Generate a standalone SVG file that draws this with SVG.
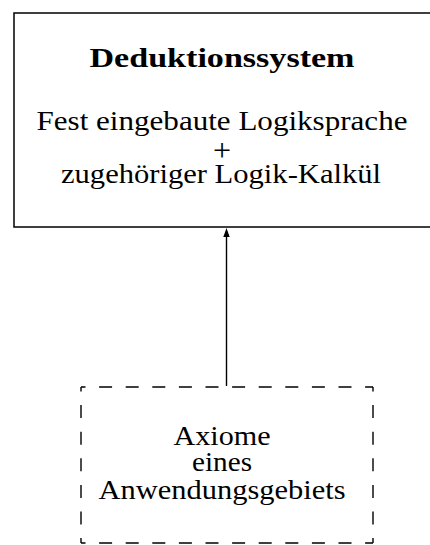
<svg xmlns="http://www.w3.org/2000/svg" width="430" height="545" viewBox="0 0 430 545">
<style>
text{font-family:"Liberation Serif","Times New Roman",serif;font-size:28px;fill:#000;text-anchor:middle}
.b{font-weight:bold}
.p{font-size:32px}
.box{fill:none;stroke:#000;stroke-width:1.5}
.dash{fill:none;stroke:#000;stroke-width:1.4;stroke-dasharray:13 13.6;stroke-dashoffset:8.5}
.conn{stroke:#000;stroke-width:1.4;fill:none}
</style>
<rect width="430" height="545" fill="#fff"/>
<g id="deduktionssystem">
<rect class="box" x="14" y="13" width="420" height="214"/>
<text class="b" x="222" y="67" textLength="265" lengthAdjust="spacingAndGlyphs">Deduktionssystem</text>
<text x="222" y="130" textLength="371" lengthAdjust="spacingAndGlyphs">Fest eingebaute Logiksprache</text>
<text class="p" x="222" y="161">+</text>
<text x="221" y="183" textLength="320" lengthAdjust="spacingAndGlyphs">zugehöriger Logik-Kalkül</text>
</g>
<g id="axiome">
<path class="dash" d="M81 387H373"/>
<path class="dash" d="M81 543H373"/>
<path class="dash" d="M81 387V543"/>
<path class="dash" d="M373 387V543"/>
<text x="222" y="445" textLength="97" lengthAdjust="spacingAndGlyphs">Axiome</text>
<text x="222" y="471" textLength="60" lengthAdjust="spacingAndGlyphs">eines</text>
<text x="222" y="499" textLength="247" lengthAdjust="spacingAndGlyphs">Anwendungsgebiets</text>
</g>
<g id="connectors">
<line class="conn" x1="226.5" y1="386" x2="226.5" y2="235"/>
<polygon points="226.5,228 223.3,237 229.7,237" fill="#000"/>
</g>
</svg>
